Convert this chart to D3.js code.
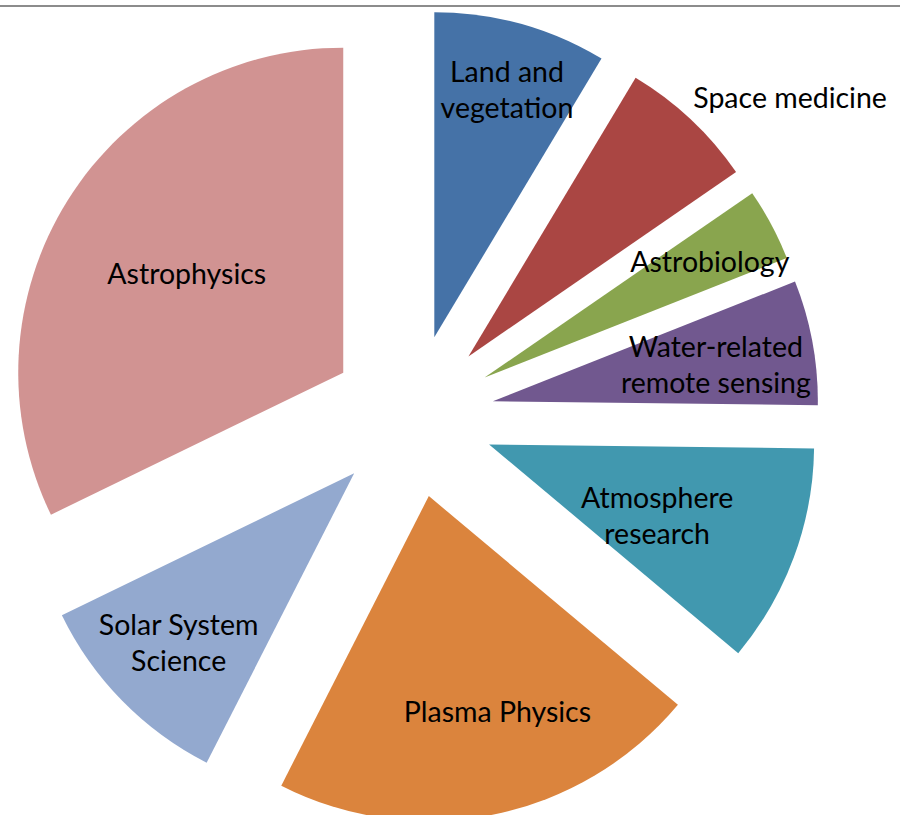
<!DOCTYPE html>
<html>
<head>
<meta charset="utf-8">
<script src="https://cdn.jsdelivr.net/npm/d3@7/dist/d3.min.js"></script>
<style>
html,body{margin:0;padding:0;background:#fff;}
svg{display:block;}
</style>
</head>
<body>
<svg id="chart" width="900" height="815"></svg>
<script>
// ---- data ----
const categories = ["Land and\nvegetation","Space medicine","Astrobiology","Water-related\nremote sensing","Atmosphere\nresearch","Plasma Physics","Solar System\nScience","Astrophysics"];
const values = [8.6, 6.8, 3.6, 6.2, 10.9, 21.4, 10.3, 32.2];
const colors = ["#4572A7","#AA4643","#89A54E","#71588F","#4198AF","#DB843D","#93A9CF","#D19392"];
// label placement: fraction of radius along slice bisector, and angle tweak (deg)
const labelFrac = [0.793, 1.270, 0.779, 0.695, 0.562, 0.697, 0.751, 0.570];
const labelTweak = [0.9, 8.0, 0.9, 1.35, 2.7, -6.1, 0.45, 0.3];

// ---- layout ----
const W = 900, H = 815;
const cx = 412.5, cy = 416, R = 325, explode = 81.7;
const svg = d3.select("#chart");

svg.append("line").attr("x1",0).attr("x2",W).attr("y1",6).attr("y2",6)
  .attr("stroke","#8c8c8c").attr("stroke-width",2);

const pie = d3.pie().sort(null).value(d => d.v).startAngle(0).endAngle(2*Math.PI);
const arcs = pie(values.map((v,i)=>({v, name:categories[i], i})));
const arc = d3.arc().innerRadius(0).outerRadius(R);

const g = svg.append("g").attr("transform",`translate(${cx},${cy})`);

const slices = g.selectAll("g.slice").data(arcs).enter().append("g")
  .attr("class","slice")
  .attr("transform", d => {
    const a = (d.startAngle + d.endAngle)/2;
    return `translate(${explode*Math.sin(a)},${-explode*Math.cos(a)})`;
  });

slices.append("path").attr("d", arc).attr("fill", (d,i)=>colors[i]);

slices.each(function(d,i){
  const a = (d.startAngle + d.endAngle)/2 + labelTweak[i]*Math.PI/180;
  const r = labelFrac[i]*R;
  const x = r*Math.sin(a), y = -r*Math.cos(a);
  const lines = d.data.name.split("\n");
  const lh = 36;
  const t = d3.select(this).append("text")
    .attr("x", x).attr("y", y)
    .attr("text-anchor","middle")
    .attr("font-family","Lato, 'Open Sans', sans-serif")
    .attr("font-size", 28.5)
    .attr("fill","#000");
  lines.forEach((ln,k)=>{
    t.append("tspan").attr("x",x)
      .attr("y", y + (k - (lines.length-1)/2)*lh)
      .attr("dy","0.35em")
      .text(ln);
  });
});
</script>
</body>
</html>
